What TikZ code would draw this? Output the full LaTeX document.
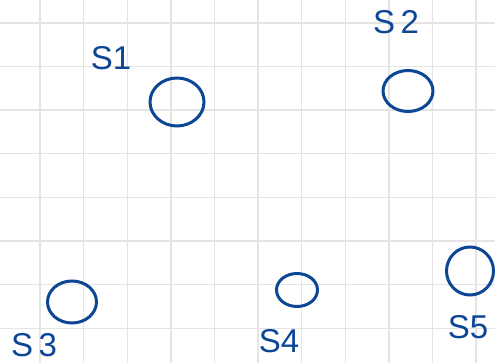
\documentclass[tikz,border=0pt]{standalone}
\usepackage{fontspec}
\setmainfont{Liberation Sans}
\usepackage{xcolor}
\usetikzlibrary{shapes.geometric}
\usetikzlibrary{positioning}

\definecolor{inkblue}{RGB}{12,70,148}
\definecolor{gridgray}{RGB}{228,228,228}

\begin{document}
\begin{tikzpicture}[x=1pt, y=-1pt,
  spot/.style={draw=inkblue, line width=3pt, ellipse, inner sep=0pt},
  lbl/.style={text=inkblue, font=\fontsize{33}{33}\selectfont, inner sep=0pt}]
  \useasboundingbox (0,0) rectangle (495,363);
  \fill[white] (0,0) rectangle (495,363);

  % ===== grid paper =====
  \foreach \i in {0,...,10}
    \draw[gridgray, line width=1.4pt] ({40+43.6*\i},0) -- ({40+43.6*\i},363);
  \foreach \j in {0,...,7}
    \draw[gridgray, line width=1.4pt] (0,{23+43.6*\j}) -- (495,{23+43.6*\j});

  % ===== spots =====
  \node[spot, minimum width=54pt, minimum height=48pt] (s1) at (177,102) {};
  \node[spot, minimum width=50pt, minimum height=41pt] (s2) at (408,91) {};
  \node[spot, minimum width=49pt, minimum height=42pt] (s3) at (72,302) {};
  \node[spot, minimum width=41pt, minimum height=33pt] (s4) at (297,290) {};
  \node[spot, minimum width=47pt, minimum height=48pt] (s5) at (470,271) {};

  % ===== labels =====
  \node[lbl] (l1) at (111,58) {S1};
  \node[lbl] (l2) at (396,22) {S\,2};
  \node[lbl] (l3) at (34,345) {S\,3};
  \node[lbl] (l4) at (279,341) {S4};
  \node[lbl] (l5) at (468,327) {S5};
\end{tikzpicture}
\end{document}
